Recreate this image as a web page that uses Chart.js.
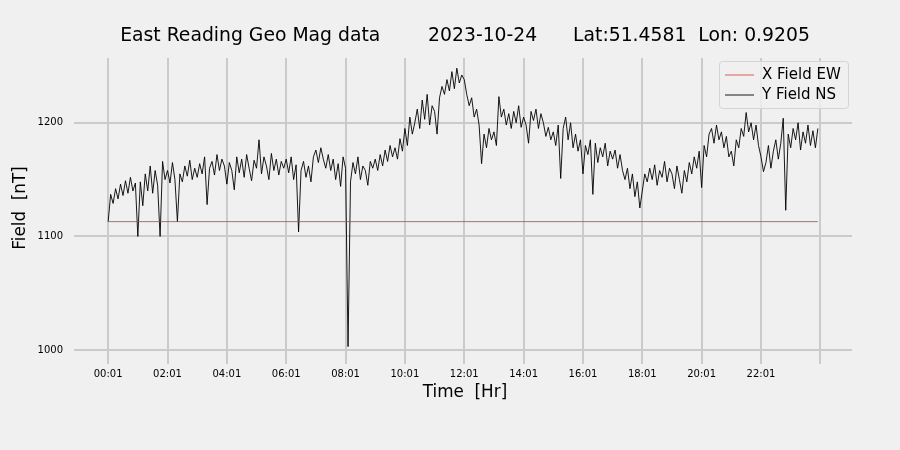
<!DOCTYPE html>
<html>
<head>
<meta charset="utf-8">
<script src="https://cdn.jsdelivr.net/npm/chart.js@4/dist/chart.umd.min.js"></script>
<style>
  html, body { margin: 0; padding: 0; background: #f0f0f0; }
  canvas { display: block; }
</style>
</head>
<body>
<canvas id="magChart" width="900" height="450"></canvas>
<script>
// Data (5 minute samples, starting 00:01)

const titleText = 'East Reading Geo Mag data        2023-10-24      Lat:51.4581  Lon: 0.9205';

const fieldNS = [
  1113, 1137, 1129, 1142, 1133, 1146, 1136, 1149, 1138, 1152, 1140, 1147,
  1100, 1148, 1127, 1155, 1140, 1162, 1138, 1158, 1145, 1100, 1166, 1150,
  1158, 1147, 1165, 1150, 1113, 1155, 1148, 1162, 1153, 1167, 1150, 1160,
  1152, 1164, 1155, 1170, 1128, 1160, 1166, 1154, 1172, 1158, 1168, 1162,
  1146, 1165, 1158, 1141, 1170, 1156, 1168, 1152, 1172, 1160, 1149, 1167,
  1160, 1185, 1155, 1170, 1162, 1150, 1173, 1158, 1168, 1154, 1166, 1160,
  1168, 1156, 1170, 1150, 1163, 1104, 1158, 1166, 1152, 1162, 1148, 1170,
  1176, 1165, 1178, 1168, 1160, 1172, 1158, 1168, 1150, 1164, 1144, 1170,
  1160, 1003, 1148, 1165, 1155, 1170, 1150, 1162, 1158, 1145, 1166, 1160,
  1168, 1158, 1172, 1162, 1176, 1166, 1180, 1170, 1178, 1168, 1186, 1175,
  1195, 1180, 1205, 1190, 1200, 1212, 1195, 1220, 1203, 1225, 1198, 1215,
  1210, 1190, 1222, 1232, 1225, 1238, 1228, 1245, 1230, 1248, 1235, 1242,
  1238, 1225, 1215, 1222, 1205, 1212, 1198, 1164, 1190, 1178, 1195, 1185,
  1192, 1180, 1223, 1205, 1212, 1198, 1208, 1195, 1210, 1200, 1215, 1196,
  1205, 1198, 1182, 1210, 1202, 1212, 1195, 1208, 1200, 1188, 1196, 1185,
  1192, 1180, 1198, 1151, 1195, 1205, 1185, 1200, 1178, 1190, 1175, 1185,
  1155, 1180, 1172, 1185, 1137, 1182, 1165, 1178, 1170, 1182, 1162, 1175,
  1168, 1176, 1160, 1172, 1158, 1150, 1160, 1142, 1155, 1135, 1148, 1125,
  1140, 1155, 1148, 1160, 1150, 1163, 1145, 1158, 1152, 1166, 1148, 1160,
  1155, 1142, 1162, 1150, 1138, 1158, 1148, 1165, 1155, 1170, 1160, 1175,
  1143, 1180, 1170, 1190, 1195, 1182, 1198, 1185, 1192, 1178, 1188, 1170,
  1175, 1162, 1185, 1178, 1195, 1188, 1209, 1192, 1200, 1185, 1198, 1180,
  1170, 1157, 1165, 1180, 1160, 1175, 1185, 1168, 1182, 1204, 1123, 1190,
  1178, 1195, 1185, 1200, 1176, 1192, 1182, 1198, 1180, 1193, 1178, 1195
];

// X field is flat for the whole day
const fieldEWTimes = [1, 1436];
const fieldEW = [1113, 1113];

const xTicks = [1, 121, 241, 361, 481, 601, 721, 841, 961, 1081, 1201, 1321, 1441];
const yTicks = [1000, 1100, 1200];

const nsPoints = fieldNS.map((v, i) => ({ x: 1 + i * 5, y: v }));
const ewPoints = fieldEW.map((v, i) => ({ x: fieldEWTimes[i], y: v }));

// Background, title, axis titles and legend

const extras = {
  id: 'extras',
  beforeDraw(chart) {
    const ctx = chart.ctx;
    ctx.save();
    ctx.fillStyle = '#f0f0f0';
    ctx.fillRect(0, 0, chart.width, chart.height);
    ctx.restore();
  },
  afterDraw(chart) {
    const ctx = chart.ctx;
    const a = chart.chartArea;
    const cx = (a.left + a.right) / 2;
    ctx.save();
    ctx.fillStyle = '#000';
    ctx.textAlign = 'center';
    ctx.textBaseline = 'middle';
    ctx.font = '18.8px "DejaVu Sans"';
    ctx.fillText(titleText, cx, 36);

    ctx.font = '16.8px "DejaVu Sans"';
    ctx.fillText('Time  [Hr]', cx, 393);
    ctx.translate(21, (a.top + a.bottom) / 2);
    ctx.rotate(-Math.PI / 2);
    ctx.fillText('Field  [nT]', 0, 0);
    ctx.restore();

    // legend
    ctx.save();
    const bx = 719, by = 61, bw = 129, bh = 47;
    ctx.fillStyle = 'rgba(240,240,240,0.8)';
    ctx.strokeStyle = '#d4d4d4';
    ctx.lineWidth = 1;
    ctx.beginPath();
    ctx.roundRect(bx + 0.5, by + 0.5, bw, bh, 3);
    ctx.fill();
    ctx.stroke();
    ctx.font = '15px "DejaVu Sans"';
    ctx.textAlign = 'left';
    ctx.textBaseline = 'middle';
    chart.data.datasets.forEach((ds, i) => {
      const y = by + 14 + i * 20;
      ctx.strokeStyle = ds.borderColor;
      ctx.lineWidth = ds.borderWidth;
      ctx.beginPath();
      ctx.moveTo(bx + 6, y);
      ctx.lineTo(bx + 35, y);
      ctx.stroke();
      ctx.fillStyle = '#000';
      ctx.fillText(ds.label, bx + 43, y);
    });
    ctx.restore();
  }
};

const magChart = new Chart(
  document.getElementById('magChart'),
  {
    type: 'line',
    data: {
      datasets: [
        {
          label: 'X Field EW',
          data: ewPoints,
          borderColor: 'rgb(220, 50, 50)',
          borderWidth: 0.8,
          pointRadius: 0
        },
        {
          label: 'Y Field NS',
          data: nsPoints,
          borderColor: '#000000',
          borderWidth: 0.9,
          pointRadius: 0
        }
      ]
    },
    options: {
      responsive: false,
      animation: false,
      layout: { padding: { left: 0, right: 48, top: 58, bottom: 0 } },
      plugins: {
        legend: { display: false },
        title: { display: false },
        tooltip: { enabled: false }
      },
      scales: {
        x: {
          type: 'linear',
          min: -60,
          max: 1505,
          afterBuildTicks: (s) => { s.ticks = xTicks.map(v => ({ value: v })); },
          afterFit: (s) => { s.height = 92; },
          border: { display: false },
          grid: { color: '#cbcbcb', lineWidth: 2, tickLength: 6 },
          ticks: {
            padding: 4,
            color: '#000',
            font: { family: 'DejaVu Sans', size: 10 },
            maxRotation: 0,
            autoSkip: false,
            callback: (v) => {
              if (v > 1440) return '';
              const h = Math.floor(v / 60);
              const m = v % 60;
              return String(h).padStart(2, '0') + ':' + String(m).padStart(2, '0');
            }
          }
        },
        y: {
          min: 993,
          max: 1257,
          afterBuildTicks: (s) => { s.ticks = yTicks.map(v => ({ value: v })); },
          afterFit: (s) => { s.width = 78; },
          border: { display: false },
          grid: { color: '#cbcbcb', lineWidth: 2, tickLength: 4 },
          ticks: {
            padding: 11,
            color: '#000',
            font: { family: 'DejaVu Sans', size: 10 },
            callback: (v) => String(v)
          }
        }
      }
    },
    plugins: [extras]
  }
);
</script>
</body>
</html>
